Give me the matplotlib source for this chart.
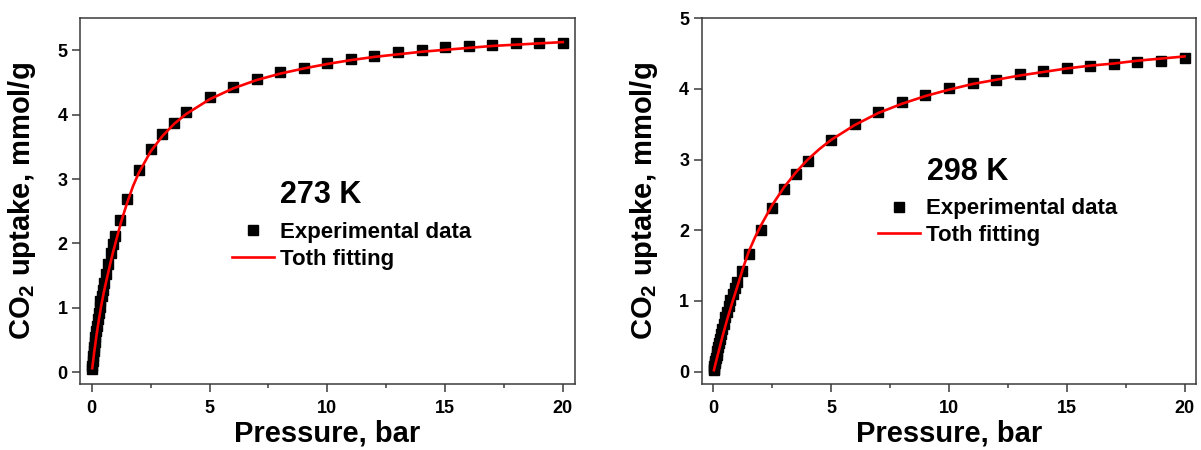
import matplotlib
matplotlib.use('Agg')
import matplotlib.pyplot as plt
from matplotlib.ticker import MultipleLocator

plt.rcParams['font.family'] = ['Liberation Sans', 'DejaVu Sans']
plt.rcParams['font.weight'] = 'bold'
plt.rcParams['mathtext.fontset'] = 'custom'
plt.rcParams['mathtext.bf'] = 'Liberation Sans:bold'
plt.rcParams['mathtext.rm'] = 'Liberation Sans:bold'
plt.rcParams['mathtext.default'] = 'bf'

# 273 K experimental isotherm
p_273 = [0.01, 0.02, 0.04, 0.06, 0.08, 0.10, 0.12, 0.15, 0.18, 0.21, 0.25, 0.29,
         0.33, 0.37, 0.42, 0.47, 0.53, 0.61, 0.70, 0.80, 0.90, 1.0, 1.2, 1.5,
         2.0, 2.5, 3.0, 3.5, 4.0, 5, 6, 7, 8, 9, 10, 11, 12, 13, 14, 15, 16,
         17, 18, 19, 20]
q_273 = [0.05, 0.09, 0.17, 0.25, 0.32, 0.39, 0.46, 0.55, 0.64, 0.72, 0.82, 0.92,
         1.01, 1.10, 1.19, 1.28, 1.38, 1.52, 1.68, 1.85, 1.99, 2.12, 2.36, 2.69,
         3.14, 3.47, 3.70, 3.88, 4.04, 4.27, 4.43, 4.56, 4.67, 4.73, 4.81, 4.87,
         4.92, 4.97, 5.01, 5.05, 5.07, 5.09, 5.11, 5.12, 5.12]

# 273 K Toth fit
fit_p_273 = [0.02, 0.1, 0.2, 0.3, 0.4, 0.5, 0.6, 0.7, 0.8, 0.9, 1.0, 1.25, 1.5,
             1.75, 2.0, 2.5, 3.0, 3.5, 4, 5, 6, 7, 8, 9, 10, 11, 12, 13, 14,
             15, 16, 17, 18, 19, 20]
fit_q_273 = [0.06, 0.30, 0.57, 0.81, 1.03, 1.22, 1.39, 1.55, 1.71, 1.86, 2.00,
             2.34, 2.63, 2.89, 3.10, 3.43, 3.67, 3.86, 4.01, 4.24, 4.41, 4.54,
             4.64, 4.72, 4.79, 4.85, 4.90, 4.94, 4.98, 5.01, 5.04, 5.07, 5.09,
             5.11, 5.13]

# 298 K experimental isotherm
p_298 = [0.01, 0.02, 0.04, 0.06, 0.08, 0.10, 0.13, 0.16, 0.20, 0.24, 0.28, 0.33,
         0.38, 0.44, 0.50, 0.57, 0.64, 0.72, 0.81, 0.90, 1.0, 1.2, 1.5, 2.0,
         2.5, 3.0, 3.5, 4.0, 5, 6, 7, 8, 9, 10, 11, 12, 13, 14, 15, 16, 17,
         18, 19, 20]
q_298 = [0.02, 0.04, 0.08, 0.12, 0.15, 0.19, 0.24, 0.29, 0.35, 0.41, 0.46, 0.53,
         0.60, 0.68, 0.77, 0.85, 0.93, 1.01, 1.10, 1.19, 1.27, 1.43, 1.66, 2.01,
         2.32, 2.58, 2.80, 2.98, 3.28, 3.50, 3.67, 3.81, 3.91, 4.01, 4.08, 4.13,
         4.21, 4.25, 4.29, 4.32, 4.36, 4.38, 4.39, 4.44]

# 298 K Toth fit
fit_p_298 = [0.02, 0.1, 0.2, 0.3, 0.4, 0.5, 0.6, 0.8, 1.0, 1.25, 1.5, 1.75, 2.0,
             2.5, 3.0, 3.5, 4, 4.5, 5, 6, 7, 8, 9, 10, 11, 12, 13, 14, 15, 16,
             17, 18, 19, 20]
fit_q_298 = [0.02, 0.13, 0.26, 0.39, 0.52, 0.64, 0.76, 0.98, 1.19, 1.46, 1.70,
             1.89, 2.06, 2.36, 2.61, 2.82, 3.00, 3.15, 3.28, 3.49, 3.66, 3.79,
             3.90, 3.99, 4.07, 4.13, 4.19, 4.24, 4.29, 4.33, 4.36, 4.40, 4.43,
             4.46]

panels = [
    ('273 K', p_273, q_273, fit_p_273, fit_q_273, (-0.19, 5.5),
     [80/1201, 65.7/450, 494.6/1201, 366/450], (0.404, 0.517), (0.307, 0.443)),
    ('298 K', p_298, q_298, fit_p_298, fit_q_298, (-0.18, 5.0),
     [701.7/1201, 65.7/450, 494.6/1201, 366/450], (0.4565, 0.58), (0.356, 0.508)),
]

fig = plt.figure(figsize=(12.01, 4.5), dpi=100)

for title, p, q, fp, fq, ylim, rect, tpos, lpos in panels:
    ax = fig.add_axes(rect)
    ax.plot(p, q, 's', color='black', markersize=7.5, label='Experimental data', zorder=2)
    ax.plot(fp, fq, '-', color='#ff0000', lw=1.9, label='Toth fitting', zorder=3)
    ax.set_xlim(-0.5, 20.5)
    ax.set_ylim(*ylim)
    ax.xaxis.set_major_locator(MultipleLocator(5))
    ax.xaxis.set_minor_locator(MultipleLocator(2.5))
    ax.yaxis.set_major_locator(MultipleLocator(1))
    for s in ax.spines.values():
        s.set_color('#3a3a3a')
        s.set_linewidth(1.1)
    ax.tick_params(which='major', direction='out', length=5.5, width=1.1,
                   color='#3a3a3a', labelsize=13, top=False, right=False)
    ax.tick_params(axis='x', which='major', pad=6)
    ax.tick_params(axis='y', which='major', pad=3.5)
    ax.tick_params(which='minor', direction='out', length=3, width=1.1,
                   color='#3a3a3a', top=False, right=False)
    ax.set_xlabel('Pressure, bar', fontsize=21, fontweight='bold')
    ax.set_ylabel(r'CO$_2$ uptake, mmol/g', fontsize=21, fontweight='bold')
    ax.xaxis.set_label_coords(0.5, -0.095)
    ax.xaxis.label.set_va('top')
    ax.yaxis.set_label_coords(-0.084, 0.5)
    ax.text(tpos[0], tpos[1], title, transform=ax.transAxes, fontsize=22,
            fontweight='bold', ha='left', va='center')
    ax.legend(loc='upper left', bbox_to_anchor=lpos, frameon=False, fontsize=16,
              handlelength=1.9, handletextpad=0.26, labelspacing=0.25,
              borderpad=0, borderaxespad=0)

fig.savefig('out.png', dpi=100)
